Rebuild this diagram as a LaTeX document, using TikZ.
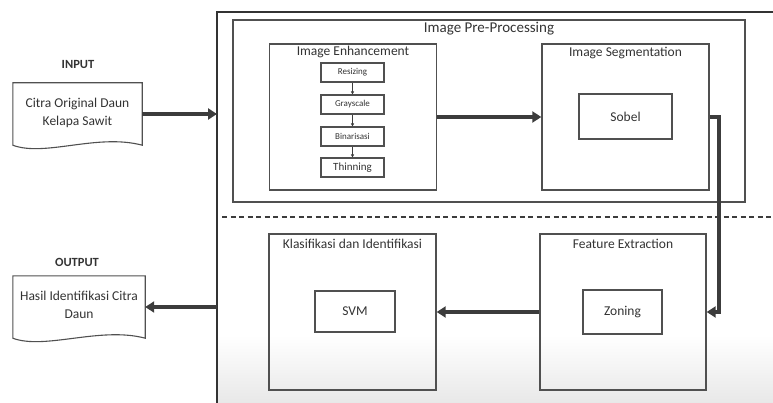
\documentclass[tikz,border=0pt]{standalone}
\usepackage{fontspec}
\setmainfont{Carlito}
\usepackage{xcolor}
\usetikzlibrary{positioning, arrows.meta, calc}
\definecolor{linegray}{HTML}{505050}
\definecolor{arrowgray}{HTML}{3C3C3C}
\definecolor{textgray}{HTML}{333333}

\begin{document}
\begin{tikzpicture}[
  x=1pt, y=-1pt,
  >=Triangle,
  box/.style={draw=linegray, line width=1.4pt, inner sep=0pt},
  stepbox/.style={draw=linegray, line width=1.1pt, minimum width=63pt, minimum height=19pt, inner sep=0pt, font=\fontsize{9}{10}\selectfont, text=textgray},
  inbox/.style={draw=linegray, line width=1.3pt, inner sep=0pt, font=\fontsize{13.5}{15}\selectfont, text=textgray},
  boxtitle/.style={font=\fontsize{13.5}{15}\selectfont, text=textgray, inner sep=0pt},
  docnode/.style={inner sep=0pt, align=center, font=\fontsize{13.5}{18}\selectfont, text=textgray},
  bigarrow/.style={->, draw=arrowgray, line width=3.6pt, arrows={-Triangle[length=9pt, width=11pt]}},
  smallarrow/.style={draw=arrowgray, line width=0.7pt, arrows={-Triangle[length=3pt, width=3pt]}}
]
\useasboundingbox (0,0) rectangle (773,403);

% Outer frame, cut by the page edge
\shade[top color=white, bottom color=black!9] (218,335) rectangle (773,403);
\coordinate (frame) at (217,12);
\draw[draw=textgray, line width=1.8pt] (773,12) -- (frame) -- (217,403);

% Upper half: pre-processing
\node[box, minimum width=512pt, minimum height=182pt] (pre) at (489,111) {};
\node[boxtitle, font=\fontsize{15}{17}\selectfont, below=3pt of pre.north] {Image Pre-Processing};

\node[box, minimum width=167pt, minimum height=146pt] (enh) at (353,117) {};
\node[boxtitle, below=3pt of enh.north] {Image Enhancement};
\node[stepbox] (resize) at (352.5,72.5) {Resizing};
\node[stepbox] (gray) at (352.5,104.5) {Grayscale};
\node[stepbox] (bin) at (352.5,136.5) {Binarisasi};
\node[stepbox, font=\fontsize{11}{12}\selectfont] (thin) at (352.5,167.5) {Thinning};
\foreach \a/\b in {resize/gray, gray/bin, bin/thin}
  \draw[smallarrow] (\a) -- (\b);

\node[box, minimum width=167pt, minimum height=146pt] (seg) at (625.5,117) {};
\node[boxtitle, below=4pt of seg.north] {Image Segmentation};
\node[inbox, minimum width=93pt, minimum height=45pt] (sobel) at (625.5,116.5) {Sobel};

% Dashed split
\draw[draw=arrowgray, line width=2.6pt, dash pattern=on 5pt off 3.5pt] (222,217) -- (773,217);

% Lower half: extraction and classification
\node[box, minimum width=166pt, minimum height=156pt] (feat) at (623,312) {};
\node[boxtitle, below=6pt of feat.north] {Feature Extraction};
\node[inbox, minimum width=79pt, minimum height=44pt] (zoning) at (622.5,312) {Zoning};

\node[box, minimum width=167pt, minimum height=156pt] (klas) at (352.5,312) {};
\node[boxtitle, below=6pt of klas.north] {Klasifikasi dan Identifikasi};
\node[inbox, minimum width=80pt, minimum height=41pt] (svm) at (355,311.5) {SVM};

% Input and output documents
\node[font=\fontsize{12.5}{14}\selectfont\bfseries, text=textgray] (inlabel) at (78,64) {INPUT};
\node[docnode, minimum width=129pt, minimum height=62pt] (indoc) at (77.5,114) {};
\node[docnode] at (77.5,113) {Citra Original Daun\\Kelapa Sawit};
\draw[draw=linegray, line width=1.1pt] (indoc.north west) -- (indoc.south west)
  .. controls +(32,12) and +(-45,-12) .. (indoc.south east) -- (indoc.north east) -- cycle;

\node[font=\fontsize{12.5}{14}\selectfont\bfseries, text=textgray] (outlabel) at (77,262) {OUTPUT};
\node[docnode, minimum width=132pt, minimum height=62pt] (outdoc) at (79,307) {};
\node[docnode] at (79,305) {Hasil Identifikasi Citra\\Daun};
\draw[draw=linegray, line width=1.1pt] (outdoc.north west) -- (outdoc.south west)
  .. controls +(32,12) and +(-45,-12) .. (outdoc.south east) -- (outdoc.north east) -- cycle;

% Flow
\draw[bigarrow] (indoc.east) -- (indoc.east -| frame);
\draw[bigarrow] (enh.east) -- (seg.west);
\draw[bigarrow] (seg.east) -- ++(9,0) |- (feat.east);
\draw[bigarrow] (feat.west) -- (klas.east);
\draw[bigarrow] (outdoc.east -| frame) -- (outdoc.east);

\end{tikzpicture}
\end{document}
